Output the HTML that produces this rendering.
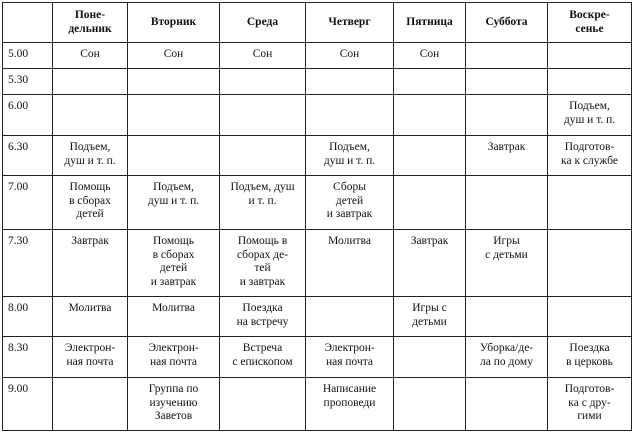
<!DOCTYPE html>
<html><head><meta charset="utf-8"><style>
html,body{margin:0;padding:0;background:#fff;width:635px;height:434px;overflow:hidden}
table{position:absolute;left:2px;top:2px;border-collapse:collapse;table-layout:fixed;font-size:11.5px;color:#111;line-height:13.5px}
td{font-family:"Liberation Serif","DejaVu Serif","Noto Serif CJK SC",serif;border:1.2px solid #222;vertical-align:top;text-align:center;padding:5px 2px 0 2px;overflow:hidden}
td.t{text-align:left;padding-left:5px}
tr.h td{font-weight:bold;vertical-align:middle;padding-top:0}
</style></head><body>
<table>
<colgroup><col style="width:50px"><col style="width:75px"><col style="width:92px"><col style="width:86px"><col style="width:88px"><col style="width:72px"><col style="width:82px"><col style="width:84px"></colgroup>
<tr class="h" style="height:40px"><td></td><td>Поне-<br>дельник</td><td>Вторник</td><td>Среда</td><td>Четверг</td><td>Пятница</td><td>Суббота</td><td>Воскре-<br>сенье</td></tr>
<tr style="height:26px"><td class="t">5.00</td><td>Сон</td><td>Сон</td><td>Сон</td><td>Сон</td><td>Сон</td><td></td><td></td></tr>
<tr style="height:26px"><td class="t">5.30</td><td></td><td></td><td></td><td></td><td></td><td></td><td></td></tr>
<tr style="height:41px"><td class="t">6.00</td><td></td><td></td><td></td><td></td><td></td><td></td><td>Подъем,<br>душ и т. п.</td></tr>
<tr style="height:40px"><td class="t">6.30</td><td>Подъем,<br>душ и т. п.</td><td></td><td></td><td>Подъем,<br>душ и т. п.</td><td></td><td>Завтрак</td><td>Подготов-<br>ка к службе</td></tr>
<tr style="height:54px"><td class="t">7.00</td><td>Помощь<br>в сборах<br>детей</td><td>Подъем,<br>душ и т. п.</td><td>Подъем, душ<br>и т. п.</td><td>Сборы<br>детей<br>и завтрак</td><td></td><td></td><td></td></tr>
<tr style="height:67px"><td class="t">7.30</td><td>Завтрак</td><td>Помощь<br>в сборах<br>детей<br>и завтрак</td><td>Помощь в<br>сборах де-<br>тей<br>и завтрак</td><td>Молитва</td><td>Завтрак</td><td>Игры<br>с детьми</td><td></td></tr>
<tr style="height:40px"><td class="t">8.00</td><td>Молитва</td><td>Молитва</td><td>Поездка<br>на встречу</td><td></td><td>Игры с<br>детьми</td><td></td><td></td></tr>
<tr style="height:41px"><td class="t">8.30</td><td>Электрон-<br>ная почта</td><td>Электрон-<br>ная почта</td><td>Встреча<br>с епископом</td><td>Электрон-<br>ная почта</td><td></td><td>Уборка/де-<br>ла по дому</td><td>Поездка<br>в церковь</td></tr>
<tr style="height:53px"><td class="t">9.00</td><td></td><td>Группа по<br>изучению<br>Заветов</td><td></td><td>Написание<br>проповеди</td><td></td><td></td><td>Подготов-<br>ка с дру-<br>гими</td></tr>
</table>
</body></html>
